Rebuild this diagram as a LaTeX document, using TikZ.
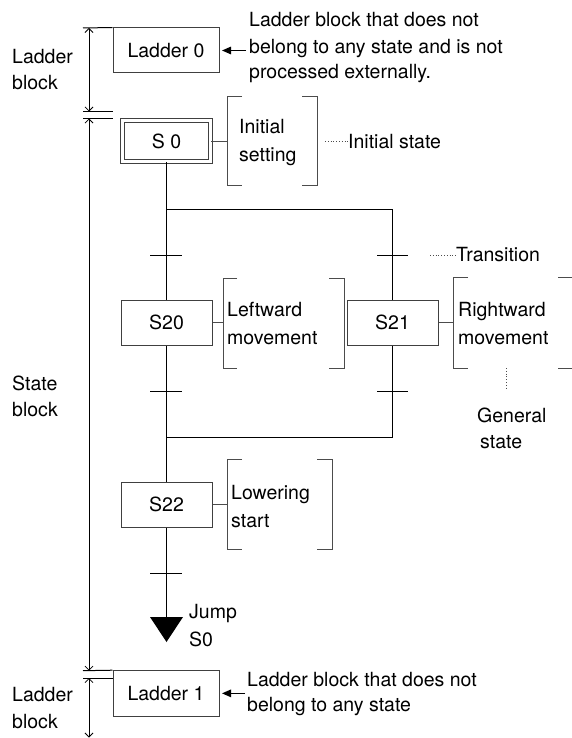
\documentclass[tikz,border=0pt]{standalone}
\usepackage{fontspec}
\setmainfont{TeX Gyre Heros}
\usetikzlibrary{arrows.meta}
\begin{document}
\begin{tikzpicture}[x=1pt,y=-1pt,
  every node/.style={font=\fontsize{19.5}{26}\selectfont, inner sep=0pt},
  box/.style={draw=black!75, line width=1pt},
  wbox/.style={box, minimum width=106pt, minimum height=45pt},
  sbox/.style={box, minimum width=91pt, minimum height=45pt},
  lbl/.style={anchor=base west},
  brk/.style={draw=black!70, line width=1pt},
  ln/.style={draw=black, line width=1pt},
  dim/.style={draw=black, line width=0.8pt, {Straight Barb[length=4pt,width=8pt]}-{Straight Barb[length=4pt,width=8pt]}},
  ptr/.style={draw=black, line width=1.3pt, -{Triangle[length=9pt,width=7.5pt]}, shorten >=2.5pt},
  dots/.style={draw=black!70, dotted, line width=0.8pt}]
\path[use as bounding box] (0,0) rectangle (571,738);

% boxes
\node[wbox] (L0) at (166,50.5) {Ladder 0};
\node[box, double, double distance=3pt, minimum width=88pt, minimum height=41.5pt] (S0) at (166.5,141.25) {S 0};
\node[sbox] (S20) at (166.5,322.5) {S20};
\node[sbox] (S21) at (392.5,322.5) {S21};
\node[sbox] (S22) at (166.5,504.5) {S22};
\node[wbox, minimum height=45.3pt] (L1) at (166,693.35) {Ladder 1};

% flow
\coordinate (bl) at (166.5,209.5);
\coordinate (br) at (392.5,209.5);
\coordinate (jl) at (166.5,437);
\coordinate (jr) at (392.5,437);
\coordinate (jt) at (166.5,617);
\draw[ln] (S0.south) -- (S20.north);
\draw[ln] (bl) -- (br) -- (S21.north);
\draw[ln] (S21.south) -- (jr) -- (jl);
\draw[ln] (S20.south) -- (S22.north);
\draw[ln] (S22.south) -- (jt);
\fill[black] (150,617) -- (183,617) -- (166.5,642) -- cycle;

% transitions
\draw[ln] (150,255) -- (182,255);
\draw[ln] (377,255) -- (408,255);
\draw[ln] (150,391) -- (182,391);
\draw[ln] (377,391) -- (408,391);
\draw[ln] (150,573) -- (182,573);

% brackets
\draw[brk] (242,96.7) -- (227,96.7) -- (227,185) -- (242,185);
\draw[brk] (302,96.7) -- (317,96.7) -- (317,185) -- (302,185);
\draw[brk] (237,278) -- (223,278) -- (223,368) -- (237,368);
\draw[brk] (329,278) -- (344,278) -- (344,368) -- (329,368);
\draw[brk] (468,277.5) -- (453,277.5) -- (453,368) -- (468,368);
\draw[brk] (558,277.5) -- (574,277.5) -- (574,368) -- (558,368);
\draw[brk] (242,459) -- (227,459) -- (227,549) -- (242,549);
\draw[brk] (317,459) -- (332,459) -- (332,549) -- (317,549);
\draw[brk] (S0.east) -- (227,141.25);
\draw[brk] (S20.east) -- (223,322.5);
\draw[brk] (S21.east) -- (453,322.5);
\draw[brk] (S22.east) -- (227,504.5);

% dimension lines
\coordinate (d1t) at (89,28);
\coordinate (d1b) at (89,111.5);
\coordinate (d2t) at (89,118.5);
\coordinate (d2b) at (89,670.7);
\coordinate (d3t) at (89,678);
\coordinate (d3b) at (89,737.5);
\draw[ln] (83,28) -- (L0.north west);
\draw[ln] (83,111.5) -- (113,111.5);
\draw[ln] (83,118.5) -- (113,118.5);
\draw[ln] (83,670.7) -- (L1.north west);
\draw[ln] (83,678) -- (113,678);
\draw[dim] (d1t) -- (d1b);
\draw[dim] (d2t) -- (d2b);
\draw[dim] (d3t) -- (d3b);

% left labels
\node[lbl] (lb1a) at (12,63.3) {Ladder};
\node[lbl] (lb1b) at (12,89.3) {block};
\node[lbl] (lb2a) at (12,390) {State};
\node[lbl] (lb2b) at (12,416.7) {block};
\node[lbl] (lb3a) at (12,701.7) {Ladder};
\node[lbl] (lb3b) at (12,728) {block};

% top note
\node[lbl] (n0a) at (249,26.7) {Ladder block that does not};
\node[lbl] (n0b) at (249,53.3) {belong to any state and is not};
\node[lbl] (n0c) at (249,79) {processed externally.};
\coordinate (p0) at (246,50.5);
\draw[ptr] (p0) -- (L0.east);

% bracket texts
\node[lbl] (i1) at (239,134) {Initial};
\node[lbl] (i2) at (239,161.5) {setting};
\node[lbl] (ist) at (348,148.3) {Initial state};
\coordinate (q1) at (325,141);
\draw[dots] (q1) -- (ist.west |- q1);

\node[lbl] (tr) at (456,261.7) {Transition};
\coordinate (q2) at (430,255);
\draw[dots] (q2) -- (tr.west |- q2);

\node[lbl] (lw1) at (227,316) {Leftward};
\node[lbl] (lw2) at (227,344.5) {movement};
\node[lbl] (rw1) at (458,316) {Rightward};
\node[lbl] (rw2) at (458,344.5) {movement};

\node[lbl] (g1) at (477,422) {General};
\node[lbl] (g2) at (480,448) {state};
\coordinate (q3) at (506,368);
\coordinate (q4) at (506,388);
\draw[dots] (q3) -- (q4);

\node[lbl] (lo1) at (231,499.5) {Lowering};
\node[lbl] (lo2) at (231,527) {start};

\node[lbl] (jp1) at (189,618) {Jump};
\node[lbl] (jp2) at (189,646) {S0};

% bottom note
\node[lbl] (n1a) at (247,686) {Ladder block that does not};
\node[lbl] (n1b) at (247,711.7) {belong to any state};
\coordinate (p1) at (245,693.35);
\draw[ptr] (p1) -- (L1.east);
\end{tikzpicture}
\end{document}
